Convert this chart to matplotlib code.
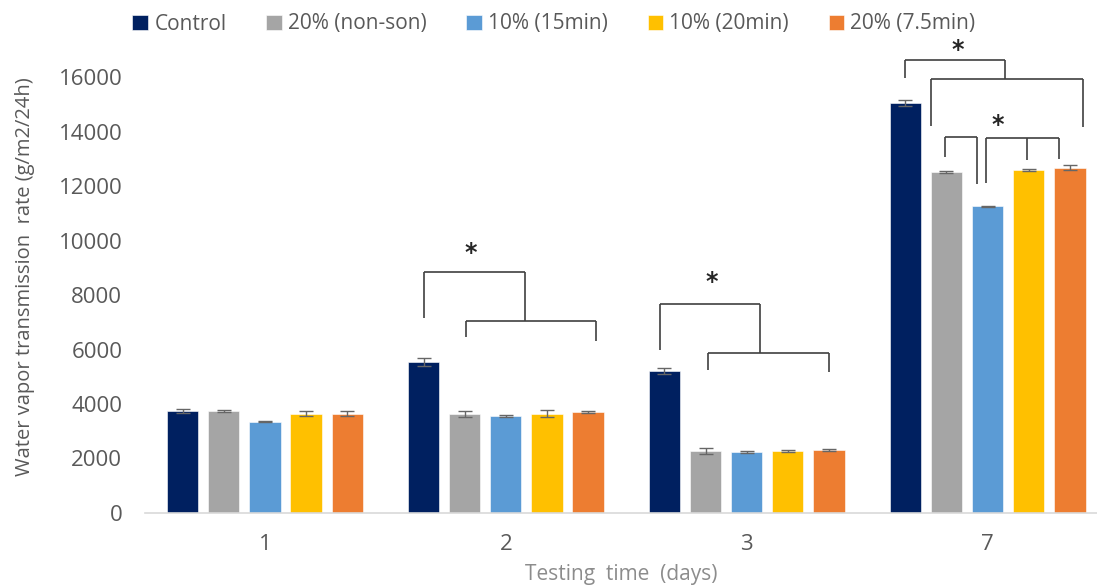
import matplotlib
matplotlib.use("Agg")
import matplotlib.pyplot as plt
import numpy as np

plt.rcParams['font.family'] = ['Open Sans', 'DejaVu Sans']

days = ["1", "2", "3", "7"]
series_names = ["Control", "20% (non-son)", "10% (15min)", "10% (20min)", "20% (7.5min)"]
colors = ["#002060", "#A5A5A5", "#5B9BD5", "#FFC000", "#ED7D31"]

control = [3740, 5540, 5210, 15030]
non_son = [3740, 3640, 2270, 12510]
son_15 = [3350, 3550, 2230, 11250]
son_20 = [3650, 3640, 2270, 12580]
son_7_5 = [3650, 3700, 2320, 12670]

control_err = [85, 135, 120, 110]
non_son_err = [50, 100, 100, 40]
son_15_err = [20, 30, 30, 20]
son_20_err = [75, 130, 40, 40]
son_7_5_err = [75, 40, 40, 90]

# Significance brackets: (day index, bracket height, [(bar slot, end height), ...])
brackets = [
    (1, 8845, [(0.0, 7146), (2.47, 7058)]),
    (1, 7058, [(1.03, 6448), (4.18, 6312)]),
    (2, 7681, [(-0.1, 5982), (2.33, 5861)]),
    (2, 5861, [(1.05, 5248), (4.0, 5186)]),
    (3, 16615, [(0.0, 15976), (2.42, 15917)]),
    (3, 15917, [(0.63, 14214), (4.32, 14155)]),
    (3, 13788, [(0.96, 13076), (1.75, 12063)]),
    (3, 13774, [(1.95, 12100), (2.96, 12955), (3.74, 12991)]),
]
# Asterisks: (day index, bar slot, height)
stars = [(1, 1.15, 9531), (2, 1.16, 8489), (3, 1.27, 16992), (3, 2.24, 14240)]

values = [control, non_son, son_15, son_20, son_7_5]
errors = [control_err, non_son_err, son_15_err, son_20_err, son_7_5_err]

W, H = 1097, 586
fig = plt.figure(figsize=(W / 100, H / 100), dpi=100)
ax = fig.add_axes([144.5 / W, (H - 513) / H, (1108 - 144.5) / W, 436 / H])

x = np.arange(len(days))
step = 0.1708
bw = 0.13
text_col = "#595959"


def slot_x(day, slot):
    return day + (slot - 2) * step


for i, (vals, errs) in enumerate(zip(values, errors)):
    xs = x + (i - 2) * step
    ax.bar(xs, vals, width=bw, color=colors[i], edgecolor="#ffffff",
           linewidth=0.4, label=series_names[i], zorder=2)
    ax.errorbar(xs, vals, yerr=errs, fmt="none", ecolor="#666666",
                elinewidth=1.0, capsize=5, capthick=1.0, zorder=3)

for day, ytop, drops in brackets:
    xs_b = [slot_x(day, s) for s, _ in drops]
    ax.plot([min(xs_b), max(xs_b)], [ytop, ytop], color="#404040", lw=1.2,
            clip_on=False, solid_capstyle="butt", zorder=4)
    for xb, (_, yend) in zip(xs_b, drops):
        ax.plot([xb, xb], [ytop, yend], color="#404040", lw=1.2,
                clip_on=False, solid_capstyle="butt", zorder=4)

for day, slot, ys in stars:
    ax.text(slot_x(day, slot), ys, "*", ha="center", va="center",
            fontsize=17, fontweight="bold", color="#262626",
            family="DejaVu Sans", clip_on=False)

ax.set_xlim(-0.5, 3.5)
ax.set_ylim(0, 16000)
ax.set_yticks(np.arange(0, 16001, 2000))
ax.set_xticks(x)
ax.set_xticklabels(days)
ax.tick_params(axis="both", length=0, labelsize=16, labelcolor=text_col)
ax.tick_params(axis="y", pad=16)
ax.tick_params(axis="x", pad=15)
for side in ["top", "right", "left"]:
    ax.spines[side].set_visible(False)
ax.spines["bottom"].set_color("#d9d9d9")
ax.spines["bottom"].set_linewidth(1.2)

fig.text(25 / W, 1 - 277 / H, "Water vapor transmission  rate (g/m2/24h)",
         rotation=90, ha="center", va="center", fontsize=14.5, color=text_col)
fig.text(621 / W, 6 / H, "Testing  time  (days)", ha="center", va="baseline",
         fontsize=15, color="#8c8c8c")

fig.legend(loc="center", bbox_to_anchor=(554 / W, 1 - 24 / H), ncol=5,
           frameon=False, fontsize=15, handlelength=0.75, handleheight=0.75,
           handletextpad=0.3, columnspacing=1.9, labelcolor=text_col,
           borderaxespad=0)

fig.savefig("out.png", dpi=100)
